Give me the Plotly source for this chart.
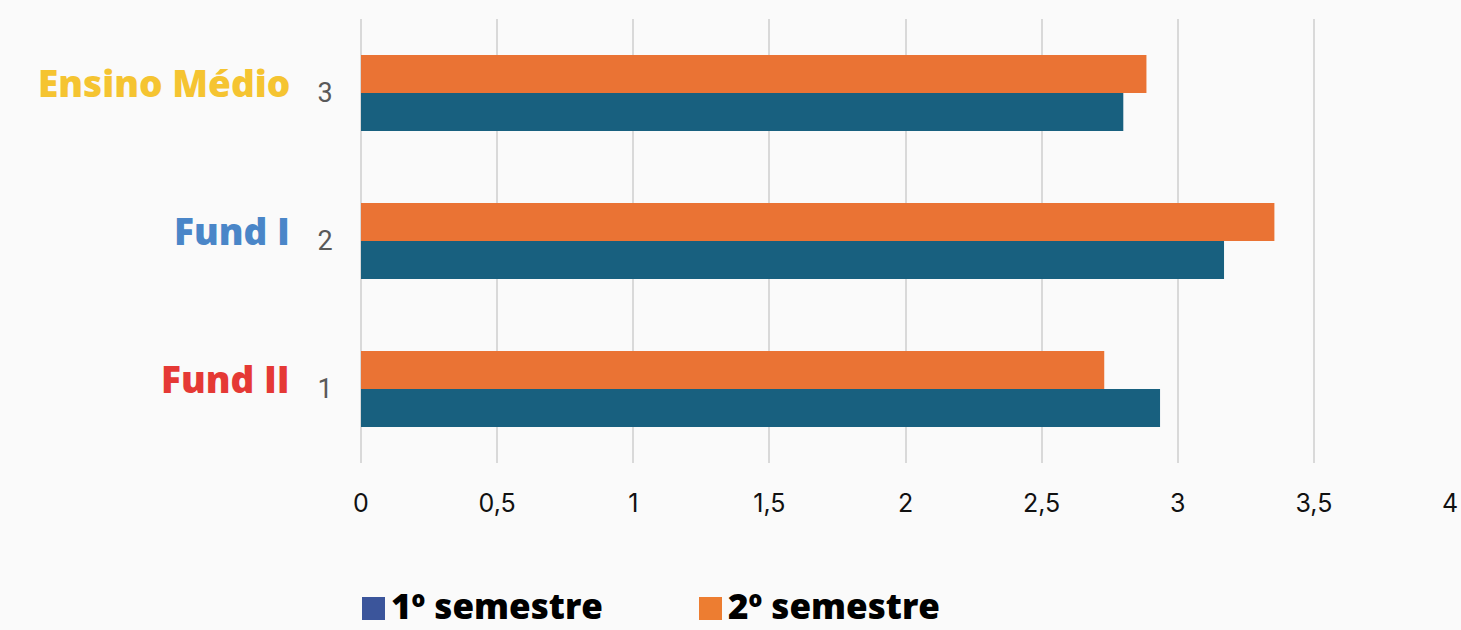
import plotly.graph_objects as go

categories = [1, 2, 3]
category_names = ["Fund II", "Fund I", "Ensino Médio"]
category_colors = ["#e53935", "#4a86c8", "#f5c431"]
series_names = ["1º semestre", "2º semestre"]
sem1 = [2.935, 3.17, 2.80]
sem2 = [2.73, 3.355, 2.885]
bar_colors = ["#18607f", "#ea7334"]
legend_colors = ["#3b559b", "#ed7d31"]
x_ticks = [0, 0.5, 1, 1.5, 2, 2.5, 3, 3.5, 4]

W, H = 1461, 630
ML, MR, MT, MB = 361, 11, 19, 167
pw, ph = W - ML - MR, H - MT - MB

fig = go.Figure()
for name, vals, col in zip(series_names, [sem1, sem2], bar_colors):
    fig.add_trace(go.Bar(y=categories, x=vals, name=name, orientation="h",
                         marker=dict(color=col, line=dict(width=0)), showlegend=False))

fig.update_layout(
    width=W, height=H, autosize=False, barmode="group", bargap=0.486, bargroupgap=0,
    margin=dict(l=ML, r=MR, t=MT, b=MB, autoexpand=False),
    paper_bgcolor="#fafafa", plot_bgcolor="rgba(0,0,0,0)",
    separators=",.",
    xaxis=dict(range=[0, 4], tickvals=x_ticks, showgrid=True, gridcolor="#d9d9d9", gridwidth=2,
               zeroline=True, zerolinecolor="#d9d9d9", zerolinewidth=2, showline=False,
               automargin=False,
               ticks="outside", ticklen=18, tickcolor="rgba(0,0,0,0)",
               tickfont=dict(family="Inter, Open Sans", size=25, color="#111111")),
    yaxis=dict(range=[0.5, 3.5], tickvals=categories, showgrid=False, zeroline=False, showline=False,
               automargin=False,
               ticks="outside", ticklen=22, tickcolor="rgba(0,0,0,0)",
               tickfont=dict(family="Roboto, Liberation Sans", size=27, color="#595959")),
)

# category names
for c, nm, col in zip(categories, category_names, category_colors):
    fig.add_annotation(xref="paper", yref="y", x=(292 - ML) / pw, y=c, yshift=11,
                       text=nm, showarrow=False, xanchor="right", yanchor="middle",
                       font=dict(family="Open Sans", size=37, color=col, weight=800))

# legend
leg_x = [362, 699]
for lx, nm, col in zip(leg_x, series_names, legend_colors):
    x0 = (lx - ML) / pw
    x1 = (lx + 23 - ML) / pw
    y0 = (MT + ph - 620) / ph
    y1 = (MT + ph - 597) / ph
    fig.add_shape(type="rect", xref="paper", yref="paper", x0=x0, x1=x1, y0=y0, y1=y1,
                  fillcolor=col, line=dict(width=0))
    fig.add_annotation(xref="paper", yref="paper", x=(lx + 28 - ML) / pw, y=(MT + ph - 605) / ph,
                       text=nm, showarrow=False, xanchor="left", yanchor="middle",
                       borderpad=0,
                       font=dict(family="Open Sans", size=35, color="#000000", weight=800))

fig.write_html(
    "out.html",
    config={"displayModeBar": False, "responsive": False},
    post_script="document.body.style.margin='0px';document.body.style.overflow='hidden';"
                "document.body.style.background='#fafafa';",
)
